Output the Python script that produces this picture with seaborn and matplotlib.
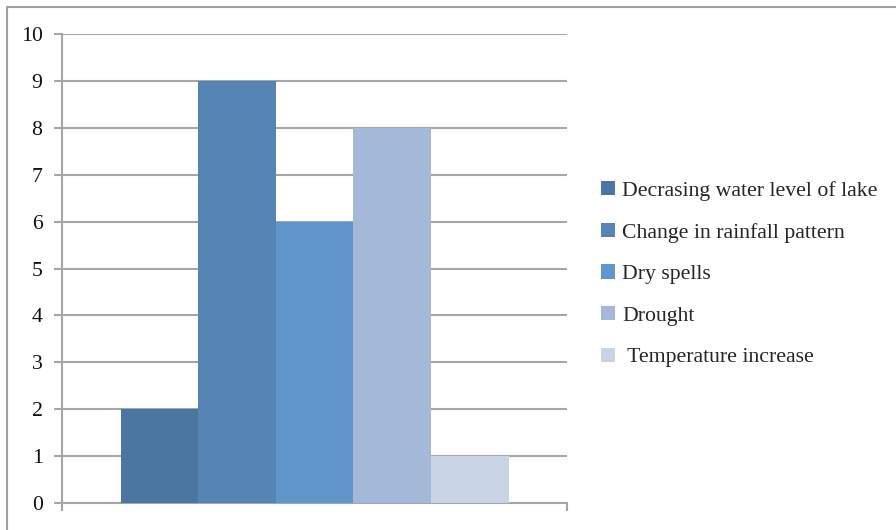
import matplotlib
matplotlib.use("Agg")
import matplotlib.pyplot as plt
from matplotlib.lines import Line2D
from matplotlib.patches import Patch
import seaborn as sns
import pandas as pd

# Survey responses: perceived climate change indicators
category = [""]
series = ["Decrasing water level of lake", "Change in rainfall pattern",
          "Dry spells", "Drought", " Temperature increase"]
values = [2, 9, 6, 8, 1]
colors = ["#4a76a0", "#5584b5", "#6096cb", "#a4b8d8", "#c8d3e6"]
y_ticks = list(range(0, 11))

df = pd.DataFrame({"cat": category * len(series), "series": series, "value": values})

sns.set_theme(style="white")
plt.rcParams["font.family"] = ["Liberation Serif", "DejaVu Serif"]

fig = plt.figure(figsize=(8.96, 5.30), dpi=100)
ax = fig.add_axes([62 / 896, 27 / 530, 505 / 896, 469 / 530])

sns.barplot(data=df, x="cat", y="value", hue="series", hue_order=series,
            palette=colors, width=388 / 505, dodge=True, saturation=1,
            linewidth=0, ax=ax, legend=False, zorder=3)

grid_c = "#a6a6a6"
ax.set_xlim(-0.5, 0.5)
ax.set_ylim(0, 10)
ax.set_yticks(y_ticks)
ax.set_yticklabels([str(t) for t in y_ticks], fontsize=15.7, color="#111111")
ax.yaxis.grid(True, color=grid_c, linewidth=1.5, zorder=0)
ax.set_axisbelow(True)
ax.set_xlabel("")
ax.set_ylabel("")
ax.set_xticks([])
ax.set_xticks([-0.5, 0.5], minor=True)
ax.tick_params(axis="x", which="minor", length=6, width=1.5, color=grid_c, bottom=True, labelbottom=False)
ax.tick_params(axis="y", length=6, width=1.5, color=grid_c, left=True, pad=8)

for side in ["top", "right"]:
    ax.spines[side].set_visible(False)
for side in ["left", "bottom"]:
    ax.spines[side].set_color(grid_c)
    ax.spines[side].set_linewidth(1.5)

handles = [Patch(facecolor=c, edgecolor="none") for c in colors]
fig.legend(handles, series, loc="upper left", bbox_to_anchor=(601 / 896, 1 - 181 / 530),
           frameon=False, fontsize=15.7, handlelength=0.62, handleheight=0.62,
           handletextpad=0.35, labelspacing=1.0, borderaxespad=0, borderpad=0)

# Chart area frame
fig.add_artist(Line2D([7 / 896, 1.0], [1 - 7 / 530, 1 - 7 / 530], transform=fig.transFigure,
                      color="#a0a0a0", linewidth=1.5))
fig.add_artist(Line2D([7 / 896, 7 / 896], [0, 1 - 7 / 530], transform=fig.transFigure,
                      color="#a0a0a0", linewidth=1.5))

fig.savefig("out.png", dpi=100)
